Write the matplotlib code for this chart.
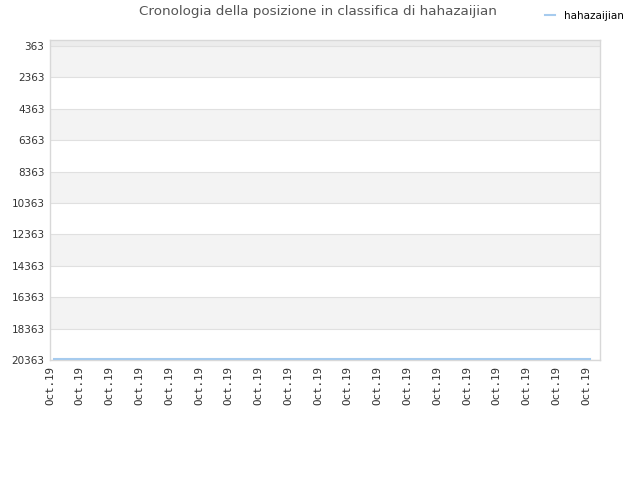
import matplotlib
matplotlib.use("Agg")
import matplotlib.pyplot as plt

# dati
giorni = [0.13, 1.13, 2.13, 3.13, 4.13, 5.13, 6.13, 7.13, 8.13, 9.13,
          10.13, 11.13, 12.13, 13.13, 14.13, 15.13, 16.13, 17.13, 18.13]
posizioni = [20320] * 19
tick_pos = list(range(19))
tick_lab = ["Oct.19"] * 19
y_ticks = [363, 2363, 4363, 6363, 8363, 10363, 12363, 14363, 16363, 18363, 20363]

fig = plt.figure(figsize=(6.4, 4.8), dpi=100)
ax = fig.add_axes([50/640, 120/480, 550/640, 320/480])

y_top = -19
ax.axhspan(y_top, y_ticks[0], color="#ececec", lw=0, zorder=0)
for i in range(len(y_ticks) - 1):
    c = "#f3f3f3" if i % 2 == 0 else "#ffffff"
    ax.axhspan(y_ticks[i], y_ticks[i+1], color=c, lw=0, zorder=0)
for y in y_ticks:
    ax.axhline(y, color="#e0e0e0", lw=0.8, zorder=1)

ax.plot(giorni, posizioni, color="#a6cbee", lw=1.5, zorder=3, label="hahazaijian")

ax.set_xlim(0, 550/29.78)
ax.set_ylim(20363, y_top)
ax.set_yticks(y_ticks)
ax.set_yticklabels([str(v) for v in y_ticks], fontsize=7.5, color="#333333")
ax.set_xticks(tick_pos)
ax.set_xticklabels(tick_lab, rotation=90, fontsize=7.8, color="#333333",
                   family="DejaVu Sans Mono")
ax.tick_params(length=0, pad=4)
for s in ax.spines.values():
    s.set_color("#d8d8d8")
    s.set_linewidth(1)

fig.text(318/640, 1 - 12/480, "Cronologia della posizione in classifica di hahazaijian",
         ha="center", va="center", fontsize=9.7, color="#555555")
fig.legend(loc="upper right", bbox_to_anchor=(0.99, 0.997), frameon=False,
           fontsize=7.5, handlelength=1.0, handletextpad=0.9)

fig.savefig("out.png", dpi=100)
